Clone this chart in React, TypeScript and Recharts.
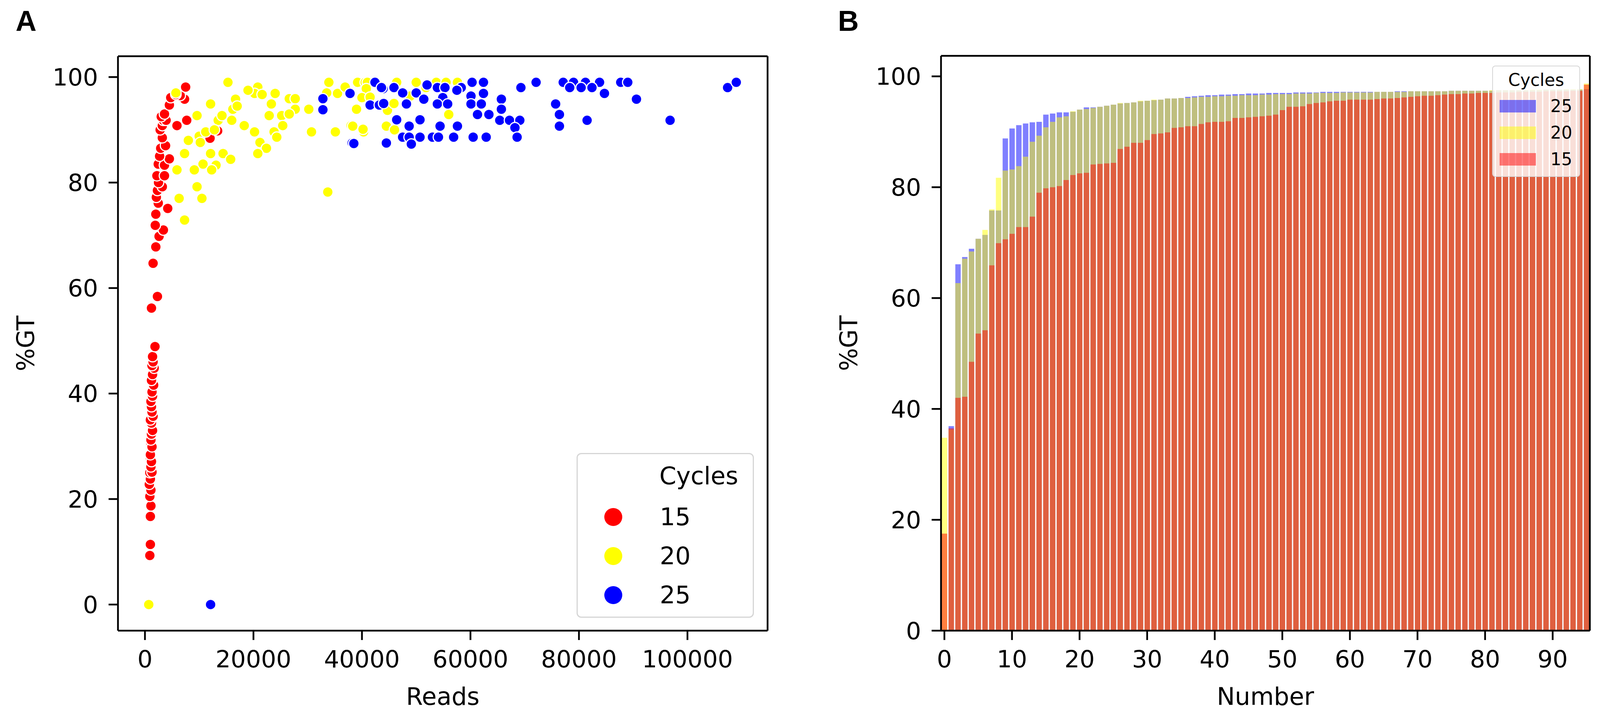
import { ScatterChart, Scatter, BarChart, Bar, XAxis, YAxis, Label, Legend } from "recharts";

const FONT = "'DejaVu Sans', sans-serif";
const AXIS = { stroke: "#000", strokeWidth: 4.5 };
const TICK = { fontSize: 61, fill: "#000", fontFamily: FONT };

// ---- panel A: reads vs %GT, one pair of arrays per cycle count ----
const reads15 = [
  900, 1000, 1000, 1100, 900, 1100, 800, 1000, 900, 1300, 1100, 1000, 1200, 1000, 1100, 1300,
  1100, 1200, 1400, 1200, 1000, 1500, 1300, 1200, 1100, 1400, 1300, 1600, 1200, 1400, 1700,
  1300, 1500, 1400, 1850, 1200, 2300, 1500, 2000, 2600, 3400, 1900, 2000, 4200, 2450, 2100,
  2300, 3200, 2500, 2200, 3600, 2450, 3600, 4500, 2700, 2900, 3800, 3200, 12000, 2800, 3200,
  5900, 13400, 3400, 3900, 7700, 3000, 3600, 4500, 4750, 7300, 6500, 5700, 7500,
];
const gt15 = [
  9.3, 11.4, 16.7, 18.7, 20.5, 21.7, 22.8, 23.8, 25.0, 25.1, 26.1, 27.8, 27.1, 28.4, 30.5, 29.9,
  31.2, 32.3, 33.0, 34.4, 35.0, 35.7, 36.5, 37.5, 38.5, 39.5, 40.3, 41.6, 42.5, 43.6, 44.8,
  45.3, 46.0, 47.0, 48.9, 56.2, 58.4, 64.7, 67.8, 69.8, 71.0, 71.9, 74.0, 75.1, 76.1, 77.2,
  78.5, 79.2, 80.0, 81.3, 81.3, 83.5, 83.3, 84.5, 85.0, 86.5, 87.0, 88.5, 88.4, 90.0, 90.8,
  90.8, 89.8, 91.8, 91.8, 91.8, 92.5, 93.0, 94.7, 96.1, 95.8, 96.5, 96.7, 98.1,
];

const reads20 = [
  700, 5700, 15300, 12100, 9600, 13500, 16000, 16200, 16700, 14200, 18300, 20800, 20200, 21600,
  24000, 23300, 22900, 25200, 26600, 27700, 27700, 26600, 30200, 25400, 23800, 24300, 20200,
  21200, 22400, 20800, 30700, 35100, 33900, 35500, 33500, 36900, 39200, 40600, 39000, 38000,
  40300, 41400, 44400, 10000, 11200, 10200, 7300, 12100, 14400, 15800, 10700, 13100, 5900, 9100,
  12300, 9600, 6300, 10500, 7300, 33700, 41000, 46400, 50000, 53700, 55500, 57600, 40800, 51800,
  40000, 41500, 44700, 45900, 56000, 38300, 40200, 44500, 46000, 48900, 17000, 19000, 12800, 8000,
];
const gt20 = [
  0, 97.0, 99.0, 94.9, 92.7, 91.8, 91.8, 93.9, 95.8, 92.7, 90.8, 98.1, 96.9, 96.7,
  96.9, 94.9, 92.7, 92.7, 95.9, 95.9, 93.9, 93.0, 93.9, 90.8, 89.6, 88.6, 89.6,
  87.6, 86.5, 85.5, 89.6, 89.6, 99.0, 96.9, 97.0, 98.1, 99.0, 99.0, 93.9, 90.8,
  89.6, 96.0, 90.8, 88.8, 89.6, 87.6, 85.5, 85.5, 85.5, 84.4, 83.5, 83.3, 82.4, 82.4,
  82.4, 79.2, 77.0, 77.0, 72.9, 78.2, 99.0, 99.0, 99.0, 99.0, 99.0, 99.0, 97.8, 98.0,
  96.1, 96.2, 93.7, 95.0, 92.9, 90.7, 90.1, 90.7, 90.0, 96.4, 94.5, 97.5, 90.0, 88.0,
];

const reads25 = [
  12100, 32800, 32800, 37800, 42400, 43900, 41500, 43200, 38200, 44500, 43600, 45900, 47500,
  50000, 51400, 53900, 55300, 58300, 60300, 62400, 62400, 60100, 54900, 48200, 53900, 55800,
  60100, 62000, 65700, 69300, 72100, 65700, 61300, 63400, 46400, 50700, 65400, 67200, 69100,
  48700, 54400, 57600, 68200, 47500, 48700, 50700, 53000, 54100, 56900, 60500, 62900, 68600,
  38500, 49100, 75700, 76400, 76400, 81500, 77100, 79000, 81200, 83800, 78300, 80400, 82400,
  84700, 87700, 89000, 90600, 96800, 107400, 109000, 57500, 52000, 44000,
];
const gt25 = [
  0, 95.9, 93.8, 96.9, 99.0, 97.8, 94.7, 94.7, 87.5, 87.5, 98.0, 98.0, 97.0,
  97.0, 95.8, 98.0, 98.0, 98.0, 99.0, 99.0, 96.9, 96.4, 96.1, 94.9, 94.9, 94.9,
  94.9, 94.9, 95.8, 98.0, 99.0, 93.9, 92.9, 92.9, 91.9, 91.9, 91.8, 91.8, 91.8,
  90.7, 90.7, 90.7, 90.4, 88.6, 88.6, 88.6, 88.6, 88.6, 88.6, 88.6, 88.6, 88.6,
  87.4, 87.3, 94.9, 92.9, 90.7, 91.8, 99.0, 99.0, 99.0, 99.0, 98.0, 98.0, 98.0,
  96.9, 99.0, 99.0, 95.8, 91.8, 98.0, 99.0, 97.5, 98.5, 95.0,
];

const readsTicks = [0, 20000, 40000, 60000, 80000, 100000];
const gtTicks = [0, 20, 40, 60, 80, 100];

// ---- panel B: sorted %GT per sample, one array per cycle count ----
const gtBars15 = [
  17.5, 36.5, 42.0, 42.2, 48.5, 53.6, 54.2, 65.9, 69.9, 70.6,
  71.6, 72.8, 72.8, 74.7, 79.0, 79.8, 80.0, 80.2, 81.3, 82.2,
  82.5, 82.6, 84.1, 84.2, 84.3, 84.4, 86.9, 87.3, 88.0, 88.0,
  88.5, 89.6, 89.7, 89.9, 90.7, 90.8, 91.0, 91.0, 91.4, 91.7,
  91.8, 91.8, 91.9, 92.5, 92.5, 92.6, 92.7, 92.8, 92.9, 93.1,
  93.9, 94.5, 94.5, 94.6, 95.0, 95.2, 95.3, 95.5, 95.6, 95.6,
  95.8, 95.8, 95.8, 95.8, 95.9, 96.0, 96.0, 96.1, 96.2, 96.3,
  96.4, 96.5, 96.5, 96.6, 96.7, 96.8, 96.8, 96.9, 96.9, 97.0,
  97.0, 97.0, 97.1, 97.1, 97.1, 97.2, 97.2, 97.2, 97.2, 97.3,
  97.3, 97.3, 97.3, 97.4, 97.4, 98.5,
];
const gtBars20 = [
  34.8, 36.3, 62.7, 67.1, 68.4, 70.7, 72.3, 76.0, 81.7, 83.0,
  83.2, 83.8, 85.5, 88.2, 89.3, 90.8, 91.8, 92.6, 92.8, 93.7,
  94.0, 94.1, 94.3, 94.5, 94.7, 94.9, 95.2, 95.2, 95.3, 95.6,
  95.6, 95.8, 95.8, 96.0, 96.0, 96.1, 96.1, 96.2, 96.3, 96.3,
  96.4, 96.4, 96.5, 96.5, 96.6, 96.6, 96.6, 96.7, 96.7, 96.8,
  96.8, 96.8, 96.9, 96.9, 96.9, 97.0, 97.0, 97.0, 97.0, 97.1,
  97.1, 97.1, 97.1, 97.1, 97.2, 97.2, 97.2, 97.2, 97.2, 97.3,
  97.3, 97.3, 97.3, 97.3, 97.3, 97.4, 97.4, 97.4, 97.4, 97.4,
  97.4, 97.5, 97.5, 97.5, 97.5, 97.5, 97.5, 97.6, 97.6, 97.6,
  97.6, 97.6, 97.7, 97.7, 97.7, 98.7,
];
const gtBars25 = [
  0, 36.9, 66.1, 67.4, 68.9, 70.7, 71.4, 75.8, 75.8, 88.8,
  90.6, 91.2, 91.5, 91.7, 91.8, 93.1, 93.3, 93.5, 93.5, 93.6,
  94.0, 94.4, 94.4, 94.5, 94.7, 94.9, 95.1, 95.2, 95.3, 95.5,
  95.6, 95.7, 95.8, 96.0, 96.0, 96.1, 96.3, 96.4, 96.5, 96.6,
  96.6, 96.7, 96.7, 96.8, 96.8, 96.9, 96.9, 96.9, 97.0, 97.0,
  97.0, 97.0, 97.1, 97.1, 97.1, 97.1, 97.2, 97.2, 97.2, 97.2,
  97.2, 97.2, 97.2, 97.2, 97.2, 97.2, 97.2, 97.3, 97.3, 97.3,
  97.3, 97.3, 97.3, 97.3, 97.3, 97.4, 97.4, 97.4, 97.4, 97.4,
  97.4, 97.4, 97.5, 97.5, 97.5, 97.5, 97.5, 97.5, 97.5, 97.6,
  97.6, 97.6, 97.6, 97.6, 97.6, 97.7,
];

const COLORS: Record<string, string> = { "15": "#ff0000", "20": "#ffff00", "25": "#0000ff" };

const toPoints = (xs: number[], ys: number[]) => xs.map((x, i) => ({ x, y: ys[i] }));
const points15 = toPoints(reads15, gt15);
const points20 = toPoints(reads20, gt20);
const points25 = toPoints(reads25, gt25);

const barRows = gtBars15.map((v, i) => ({ n: i, c15: v, c20: gtBars20[i], c25: gtBars25[i] }));

const xDomainA = [-4975, 114770];
const yDomainA = [-4.95, 103.95];
const yDomainB = [0, 103.7];

const BAR_SIZE = 13.84;

function dot(fill: string) {
  return (props: any) => (
    <circle cx={props.cx} cy={props.cy} r={13.5} fill={fill} stroke="#fff" strokeWidth={3} />
  );
}

function sortBy(payload: any[], order: string[]) {
  return [...(payload || [])].sort((a, b) => order.indexOf(String(a.value)) - order.indexOf(String(b.value)));
}

function ScatterLegend({ payload }: any) {
  const items = sortBy(payload, ["15", "20", "25"]);
  return (
    <div
      style={{
        position: "relative", width: 454, height: 422, boxSizing: "border-box",
        border: "3px solid #d6d6d6", borderRadius: 12, background: "rgba(255,255,255,0.8)",
        fontFamily: FONT, color: "#000",
      }}
    >
      <div style={{ position: "absolute", left: 209, top: 25, fontSize: 62, lineHeight: "62px" }}>Cycles</div>
      {items.map((p: any, i: number) => (
        <div
          key={p.value}
          style={{ position: "absolute", left: 0, top: 130 + i * 100, height: 62, display: "flex", alignItems: "center" }}
        >
          <span style={{ width: 46, height: 46, borderRadius: "50%", background: COLORS[p.value], marginLeft: 68 }} />
          <span style={{ marginLeft: 96, fontSize: 62, lineHeight: "62px" }}>{p.value}</span>
        </div>
      ))}
    </div>
  );
}

function BarLegend({ payload }: any) {
  const items = sortBy(payload, ["25", "20", "15"]);
  return (
    <div
      style={{
        position: "relative", width: 225, height: 285, boxSizing: "border-box",
        border: "2px solid #d6d6d6", borderRadius: 8, background: "rgba(255,255,255,0.8)",
        fontFamily: FONT, color: "#000",
      }}
    >
      <div style={{ position: "absolute", left: 0, right: 0, top: 13, textAlign: "center", fontSize: 44, lineHeight: "44px" }}>
        Cycles
      </div>
      {items.map((p: any, i: number) => (
        <div
          key={p.value}
          style={{ position: "absolute", left: 0, top: 80 + i * 68, height: 44, display: "flex", alignItems: "center" }}
        >
          <span style={{ width: 93, height: 32, background: COLORS[p.value], opacity: 0.5, marginLeft: 17 }} />
          <span style={{ marginLeft: 37, fontSize: 44, lineHeight: "44px" }}>{p.value}</span>
        </div>
      ))}
    </div>
  );
}

const panelLetter = {
  position: "absolute" as const, top: 17, fontFamily: "'Liberation Sans', Arial, sans-serif",
  fontWeight: 700, fontSize: 74, lineHeight: "74px", color: "#000",
};

export default function App() {
  return (
    <div style={{ position: "absolute", left: 0, top: 0, width: 4097, height: 1831, background: "#fff", overflow: "hidden" }}>
      <div style={{ ...panelLetter, left: 40 }}>A</div>
      <div style={{ ...panelLetter, left: 2145 }}>B</div>

      <div style={{ position: "absolute", left: 0, top: 0 }}>
        <ScatterChart width={2100} height={1831} margin={{ top: 143, right: 134, bottom: 0, left: 0 }}>
          <XAxis
            type="number" dataKey="x" domain={xDomainA} ticks={readsTicks} height={216}
            axisLine={AXIS} tickLine={AXIS} tickSize={24} tickMargin={27} tick={TICK}
          >
            <Label value="Reads" position="insideBottom" offset={26} fontSize={62} fill="#000" fontFamily={FONT} />
          </XAxis>
          <YAxis
            type="number" dataKey="y" domain={yDomainA} ticks={gtTicks} width={302}
            axisLine={AXIS} tickLine={AXIS} tickSize={24} tickMargin={27} tick={TICK}
          >
            <Label
              value="%GT" angle={-90} position="insideLeft" offset={65} fontSize={62} fill="#000"
              fontFamily={FONT} style={{ textAnchor: "middle" }}
            />
          </YAxis>
          {/* top and right spines of the matplotlib-style frame */}
          <XAxis xAxisId="top" orientation="top" type="number" domain={xDomainA} height={1} tick={false} tickLine={false} axisLine={AXIS} />
          <YAxis yAxisId="right" orientation="right" type="number" domain={yDomainA} width={1} tick={false} tickLine={false} axisLine={AXIS} />
          <Scatter name="15" data={points15} fill={COLORS["15"]} shape={dot(COLORS["15"])} isAnimationActive={false} />
          <Scatter name="20" data={points20} fill={COLORS["20"]} shape={dot(COLORS["20"])} isAnimationActive={false} />
          <Scatter name="25" data={points25} fill={COLORS["25"]} shape={dot(COLORS["25"])} isAnimationActive={false} />
          <Legend
            layout="vertical" align="center" verticalAlign="middle" content={<ScatterLegend />}
            wrapperStyle={{ left: 1476, top: 1160, width: 454, height: 422 }}
          />
        </ScatterChart>
      </div>

      <div style={{ position: "absolute", left: 2100, top: 0 }}>
        <BarChart
          width={1997} height={1831} data={barRows} margin={{ top: 142, right: 26, bottom: 0, left: 0 }}
          barGap={-BAR_SIZE} barSize={BAR_SIZE}
        >
          <XAxis
            dataKey="n" interval={9} height={216}
            axisLine={AXIS} tickLine={AXIS} tickSize={24} tickMargin={27} tick={TICK}
          >
            <Label value="Number" position="insideBottom" offset={26} fontSize={62} fill="#000" fontFamily={FONT} />
          </XAxis>
          <YAxis
            type="number" domain={yDomainB} ticks={gtTicks} width={309}
            axisLine={AXIS} tickLine={AXIS} tickSize={24} tickMargin={27} tick={TICK}
          >
            <Label
              value="%GT" angle={-90} position="insideLeft" offset={72} fontSize={62} fill="#000"
              fontFamily={FONT} style={{ textAnchor: "middle" }}
            />
          </YAxis>
          <XAxis xAxisId="top" dataKey="n" orientation="top" height={1} tick={false} tickLine={false} axisLine={AXIS} />
          <YAxis yAxisId="right" orientation="right" type="number" domain={yDomainB} width={1} tick={false} tickLine={false} axisLine={AXIS} />
          <Bar name="25" dataKey="c25" fill={COLORS["25"]} fillOpacity={0.5} barSize={BAR_SIZE} isAnimationActive={false} />
          <Bar name="20" dataKey="c20" fill={COLORS["20"]} fillOpacity={0.5} barSize={BAR_SIZE} isAnimationActive={false} />
          <Bar name="15" dataKey="c15" fill={COLORS["15"]} fillOpacity={0.5} barSize={BAR_SIZE} isAnimationActive={false} />
          <Legend
            layout="vertical" align="center" verticalAlign="middle" content={<BarLegend />}
            wrapperStyle={{ left: 1720, top: 168, width: 225, height: 285 }}
          />
        </BarChart>
      </div>
    </div>
  );
}
